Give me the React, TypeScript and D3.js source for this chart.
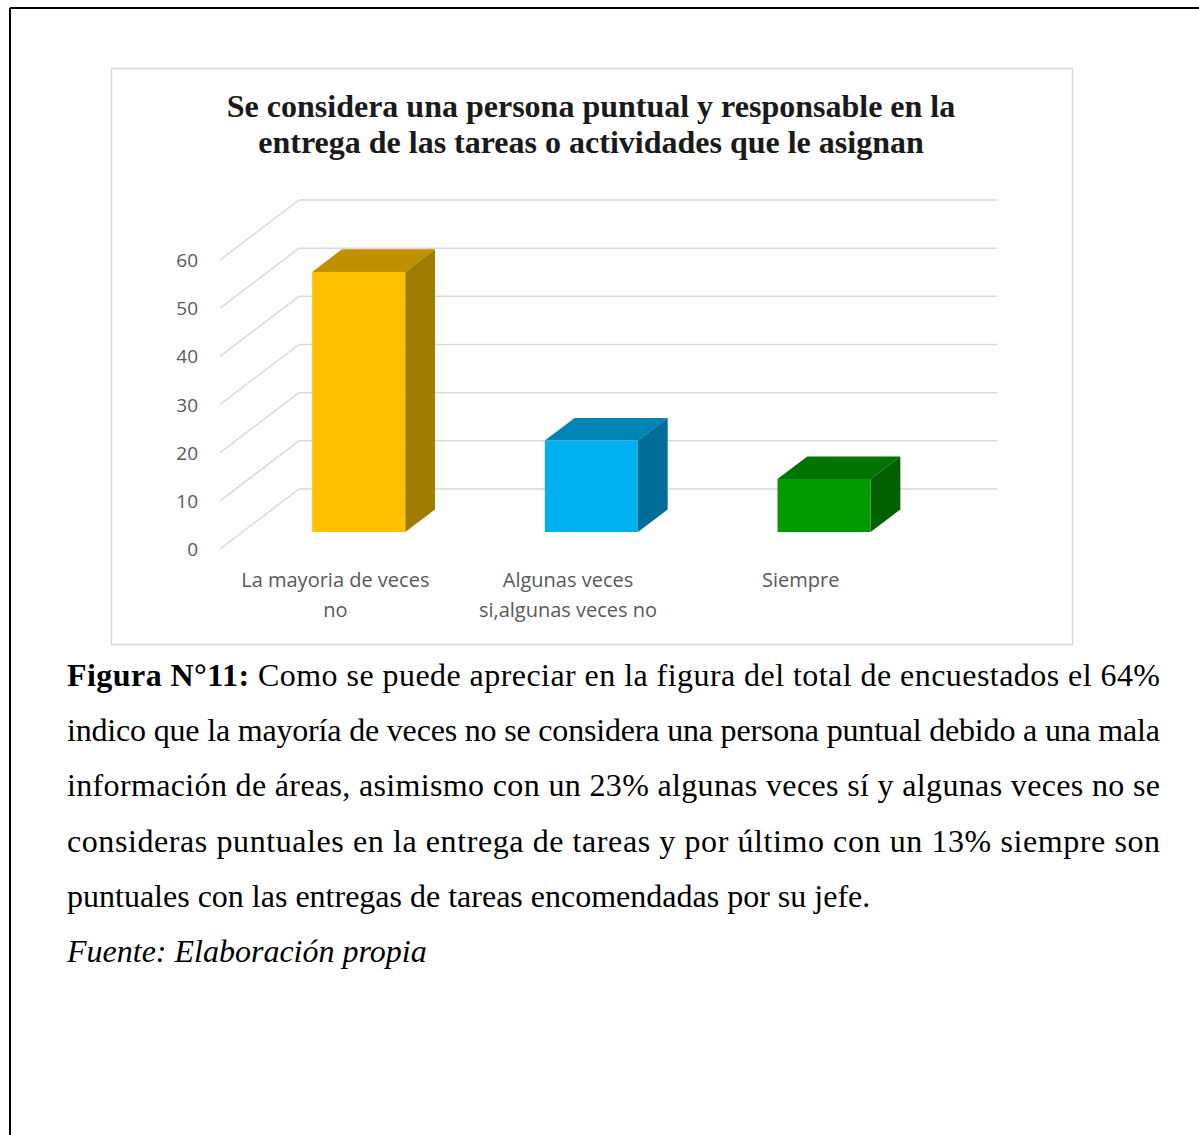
import React from "react";
import * as d3 from "d3";

const categories = ["La mayoria de veces|no", "Algunas veces|si,algunas veces no", "Siempre"];
const values = [54, 19, 11];
const yTicks = [0, 10, 20, 30, 40, 50, 60];
const frontColors = ["#FFC000", "#00B0F0", "#009A00"];
const topColors = ["#C09000", "#0084B4", "#007300"];
const sideColors = ["#A07C00", "#006E96", "#006000"];

const titleLines = [
  "Se considera una persona puntual y responsable en la",
  "entrega de las tareas o actividades que le asignan",
];

const captionLines = [
  "Como se puede apreciar en la figura del total de encuestados el 64%",
  "indico que la mayoría de veces no se considera una persona puntual debido a una mala",
  "información de áreas, asimismo con un 23% algunas veces sí y algunas veces no se",
  "consideras puntuales en la entrega de tareas y por último con un 13% siempre son",
  "puntuales con las entregas de tareas encomendadas por su jefe.",
];

export default function App() {
  const W = 1199;
  const H = 1135;
  const yScale = d3.scaleLinear().domain([0, 60]).range([549, 260]);
  const xBand = d3
    .scaleBand<string>()
    .domain(categories)
    .range([220, 918])
    .paddingInner(0.6)
    .paddingOuter(0.3);
  const DX = 79;
  const DY = -60;
  const z0 = 0.283;
  const z1 = 0.66;
  const proj = (x: number, v: number, z: number): [number, number] => [x + DX * z, yScale(v) + DY * z];
  const pts = (arr: [number, number][]) => arr.map((p) => p.join(",")).join(" ");
  const backRight = 997;
  const gridColor = "#D9D9D9";

  return (
    <svg
      width={W}
      height={H}
      style={{ position: "absolute", left: 0, top: 0, display: "block", background: "#fff" }}
    >
      {/* outer page border */}
      <line x1={10} y1={8} x2={W} y2={8} stroke="#000" strokeWidth={2} />
      <line x1={10} y1={8} x2={10} y2={H} stroke="#000" strokeWidth={2} />

      {/* chart frame */}
      <rect x={111.5} y={68.5} width={961} height={576} fill="#fff" stroke="#D9D9D9" strokeWidth={1.5} />

      {/* title */}
      <g fontFamily="'Liberation Serif', 'Times New Roman', serif" fontWeight="bold" fontSize={32} fill="#1a1a1a" textAnchor="middle">
        {titleLines.map((t, i) => (
          <text key={i} x={591} y={117 + i * 36}>
            {t}
          </text>
        ))}
      </g>

      {/* gridlines */}
      <g stroke={gridColor} strokeWidth={1.5} fill="none">
        {yTicks.map((t) => {
          const a = proj(220, t, 0);
          const b = proj(220, t, 1);
          return (
            <g key={t}>
              <line x1={a[0]} y1={a[1]} x2={b[0]} y2={b[1]} />
              <line x1={b[0]} y1={b[1]} x2={backRight} y2={b[1]} />
            </g>
          );
        })}
      </g>

      {/* y labels */}
      <g fontFamily="'Open Sans', 'Liberation Sans', sans-serif" fontSize={19} fill="#595959" textAnchor="end">
        {yTicks.map((t) => (
          <text key={t} x={198} y={yScale(t) + 7}>
            {t}
          </text>
        ))}
      </g>

      {/* bars */}
      {categories.map((c, i) => {
        const x0 = xBand(c)!;
        const x1 = x0 + xBand.bandwidth();
        const v = values[i];
        const f0 = proj(x0, v, z0);
        const f1 = proj(x1, 0, z0);
        return (
          <g key={c}>
            <polygon points={pts([proj(x0, v, z0), proj(x1, v, z0), proj(x1, v, z1), proj(x0, v, z1)])} fill={topColors[i]} />
            <polygon points={pts([proj(x1, 0, z0), proj(x1, v, z0), proj(x1, v, z1), proj(x1, 0, z1)])} fill={sideColors[i]} />
            <rect x={f0[0]} y={f0[1]} width={f1[0] - f0[0]} height={f1[1] - f0[1]} fill={frontColors[i]} />
          </g>
        );
      })}

      {/* category labels */}
      <g fontFamily="'Open Sans', 'Liberation Sans', sans-serif" fontSize={20} fill="#595959" textAnchor="middle">
        {categories.map((c) => {
          const cx = xBand(c)! + xBand.bandwidth() / 2 - 1;
          return c.split("|").map((line, j) => (
            <text key={c + j} x={cx} y={587 + j * 30}>
              {line}
            </text>
          ));
        })}
      </g>

      {/* caption */}
      <g fontFamily="'Liberation Serif', 'Times New Roman', serif" fontSize={32} fill="#000">
        {captionLines.map((t, i) => {
          const justified = i < captionLines.length - 1;
          return (
            <text
              key={i}
              x={67}
              y={686 + i * 55.2}
              textLength={justified ? 1093 : undefined}
              lengthAdjust={justified ? "spacing" : undefined}
            >
              {i === 0 ? (
                <>
                  <tspan fontWeight="bold">Figura N°11:</tspan> {t}
                </>
              ) : (
                t
              )}
            </text>
          );
        })}
        <text x={67} y={686 + 5 * 55.2} fontStyle="italic">
          Fuente: Elaboración propia
        </text>
      </g>
    </svg>
  );
}
